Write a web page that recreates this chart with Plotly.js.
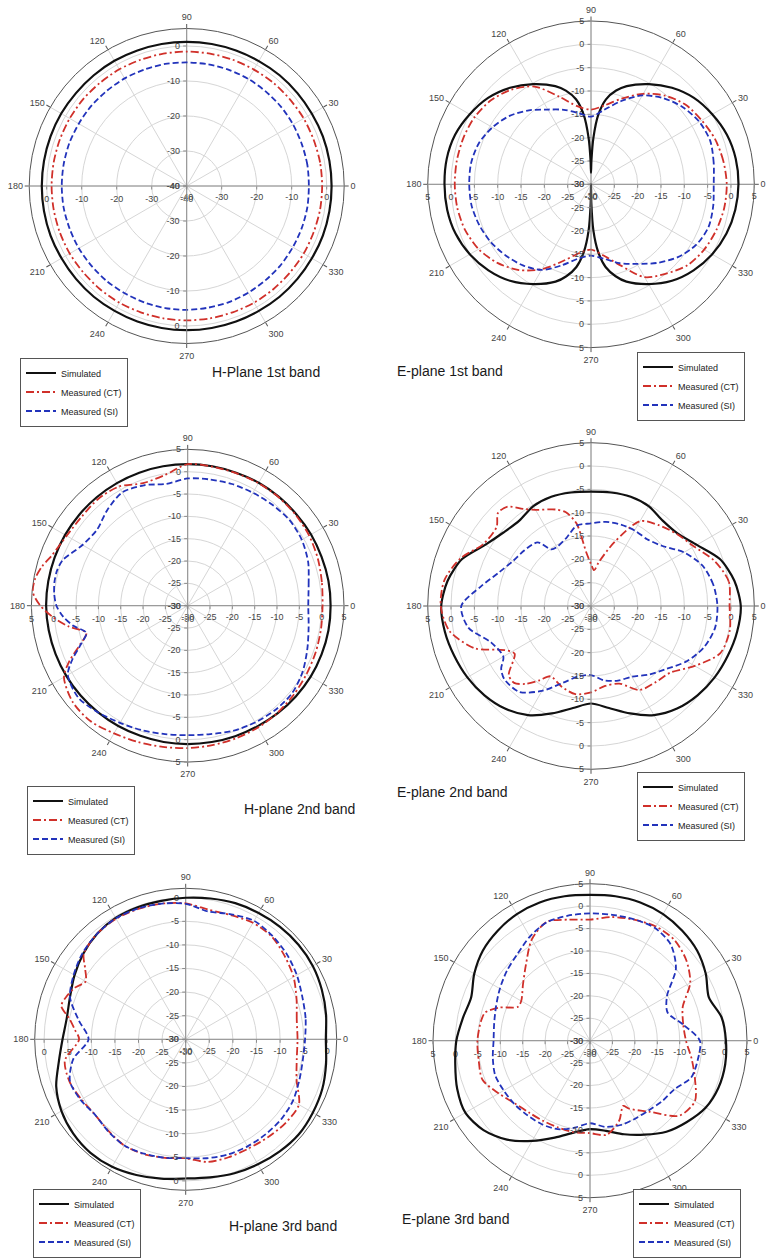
<!DOCTYPE html>
<html><head><meta charset="utf-8">
<script src="https://cdn.plot.ly/plotly-3.0.1.min.js"></script>
<style>html,body{margin:0;padding:0;background:#fff}#chart{width:766px;height:1258px}</style>
</head><body><div id="chart"></div>
<script>
// ---------- data (dB vs angle in degrees) ----------
const ANG = [0,10,20,30,40,50,60,70,80,90,100,110,120,130,140,150,160,170,180,190,200,210,220,230,240,250,260,270,280,290,300,310,320,330,340,350,360];
const ANG_TICKS = [0,30,60,90,120,150,180,210,240,270,300,330];
const SERIES_NAMES = ['Simulated','Measured (CT)','Measured (SI)'];
const TITLES = ['H-Plane 1st band','E-plane 1st band','H-plane 2nd band','E-plane 2nd band','H-plane 3rd band','E-plane 3rd band'];
const TICKS_40 = [-40,-30,-20,-10,0];
const TICKS_30 = [-30,-25,-20,-15,-10,-5,0,5];
const TICKS_30S = [-30,-25,-20,-15,-10,-5,0];

// H-plane 1st band
const h1_sim = [1.4,1.4,1.4,1.3,1.3,1.3,1.2,1.2,1.2,1.2,1.2,1.2,1.3,1.3,1.3,1.4,1.4,1.4,1.4,1.4,1.4,1.3,1.3,1.3,1.2,1.2,1.2,1.2,1.2,1.2,1.2,1.3,1.3,1.3,1.4,1.4,1.4];
const h1_ct  = [-1.3,-1.3,-1.4,-1.4,-1.5,-1.5,-1.6,-1.6,-1.6,-1.6,-1.6,-1.6,-1.5,-1.5,-1.4,-1.4,-1.4,-1.4,-1.4,-1.4,-1.4,-1.4,-1.5,-1.5,-1.5,-1.6,-1.6,-1.6,-1.6,-1.6,-1.5,-1.5,-1.5,-1.4,-1.4,-1.3,-1.3];
const h1_si  = [-5.1,-5.0,-5.0,-4.9,-4.8,-4.8,-4.7,-4.7,-4.7,-4.7,-4.6,-4.6,-4.5,-4.5,-4.4,-4.4,-4.3,-4.3,-4.3,-4.3,-4.4,-4.4,-4.5,-4.5,-4.6,-4.6,-4.6,-4.6,-4.7,-4.7,-4.8,-4.9,-4.9,-5.0,-5.0,-5.0,-5.1];

// E-plane 1st band
const e1_sim_theta = [0,10,20,30,40,50,60,70,75,80,84,87,89,90,91,93,96,100,105,110,120,130,140,150,160,170,180,190,200,210,220,230,240,250,255,260,264,267,269,270,271,273,276,280,285,290,300,310,320,330,340,350,360];
const e1_sim = [1.6,1.5,1.0,0.0,-1.2,-3.0,-5.2,-7.6,-9.2,-11.5,-15,-20,-25,-27.5,-25,-20,-15,-11.5,-9.2,-7.6,-5.2,-3.0,-1.2,0.0,1.0,1.4,1.4,1.3,0.9,0.0,-1.3,-3.0,-5.3,-7.8,-9.6,-12,-15.5,-20,-26,-30,-26,-20,-15.5,-12,-9.6,-7.8,-5.3,-3.0,-1.3,0.0,0.9,1.4,1.6];
const e1_ct  = [-0.9,-1.2,-1.7,-2.6,-3.5,-5.2,-7.6,-10.4,-12.8,-14.0,-13.0,-10.0,-5.8,-3.5,-2.0,-1.2,-0.9,-0.8,-0.8,-0.9,-1.3,-2.2,-3.8,-6.0,-9.0,-12.5,-15.0,-16.0,-14.5,-11.5,-7.0,-5.0,-3.0,-2.0,-1.4,-1.0,-0.9];
const e1_si  = [-3.7,-3.3,-2.8,-3.2,-4.3,-5.9,-8.0,-11.0,-13.8,-15.5,-14.5,-13.0,-11.5,-9.3,-7.2,-5.6,-4.4,-3.9,-3.9,-4.0,-4.5,-5.2,-6.2,-7.3,-8.8,-11.5,-13.8,-14.7,-13.8,-12.0,-10.3,-8.0,-5.7,-4.0,-3.2,-3.4,-3.7];

// H-plane 2nd band
const h2_sim = [2.0,2.0,1.9,1.9,1.8,1.8,1.8,1.7,1.7,1.7,1.7,1.7,1.7,1.7,1.7,1.7,1.7,1.7,1.7,1.6,1.5,1.4,1.3,1.2,1.1,1.0,1.0,1.0,1.0,1.1,1.2,1.4,1.6,1.8,1.9,2.0,2.0];
const h2_meas_theta = [0,10,20,30,40,50,60,70,80,90,100,110,120,130,140,150,160,165,170,175,180,185,190,195,200,205,210,220,230,240,250,260,270,280,290,300,310,320,330,340,350,360];
const h2_ct = [0.2,0.5,1.0,1.4,1.6,1.7,1.7,1.6,1.6,1.7,-0.3,-0.8,0.8,1.2,1.0,1.3,2.5,3.8,4.7,4.8,3.0,0.2,-3.0,-6.5,-4.3,-0.8,2.0,3.6,3.8,3.0,2.5,2.1,1.9,1.7,1.6,1.5,1.3,1.0,0.7,0.5,0.3,0.2];
const h2_si = [-3.0,-2.5,-1.3,-0.5,-0.2,-0.5,-0.8,-1.0,-1.3,-1.5,-2.3,-1.3,-0.7,-2.0,-3.5,-2.8,-0.2,0.3,0.3,0.0,-0.6,-2.0,-4.0,-6.5,-4.5,-1.5,1.0,2.0,1.2,0.3,-0.3,-0.8,-1.0,-0.8,-0.2,0.2,0.5,0.5,-0.3,-1.5,-2.5,-3.0];

// E-plane 2nd band
const e2_sim = [2.1,1.2,-0.6,-3.8,-5.8,-6.1,-5.3,-5.1,-5.3,-5.5,-5.3,-5.1,-5.3,-6.1,-5.5,-3.8,-0.6,1.2,2.1,1.8,1.2,0.6,-0.2,-1.3,-3.0,-5.5,-7.8,-9.1,-7.8,-5.5,-3.0,-1.3,-0.2,0.6,1.2,1.8,2.1];
const e2_ct_theta = [0,10,20,30,40,50,60,70,80,85,90,95,100,105,110,120,125,130,135,140,150,160,170,180,190,200,207,212,220,225,230,235,240,250,260,270,280,290,300,310,320,330,340,350,360];
const e2_ct = [-0.3,0.0,-1.8,-4.5,-6.0,-7.4,-9.0,-15.5,-20.5,-22.3,-21.0,-18.5,-12.0,-9.2,-8.0,-6.2,-4.6,-2.2,-1.8,-3.6,-3.4,-0.2,1.9,2.2,0.8,-3.5,-9.2,-10.7,-7.0,-6.7,-8.2,-10.5,-12.6,-11.6,-10.8,-11.5,-12.6,-12.3,-9.2,-8.6,-7.8,-4.3,-0.5,0.2,-0.3];
const e2_si_theta = [0,10,20,30,40,50,60,70,80,90,100,110,120,125,130,140,150,160,170,180,190,200,210,215,220,230,240,250,260,270,280,290,300,310,320,330,340,350,360];
const e2_si = [-2.9,-3.4,-4.6,-7.0,-10.0,-11.3,-11.3,-11.4,-11.7,-12.3,-12.5,-14.5,-15.4,-15.2,-12.2,-11.4,-10.7,-9.0,-6.0,-2.2,-3.3,-7.2,-8.3,-6.5,-5.7,-6.0,-9.0,-12.5,-14.7,-15.2,-13.8,-13.0,-12.5,-10.8,-9.0,-6.3,-4.2,-3.0,-2.9];

// H-plane 3rd band
const h3_sim = [-0.3,0.2,0.7,1.1,1.2,1.1,0.9,0.7,0.3,0.0,-0.2,-0.2,-0.3,-0.8,-1.7,-2.8,-3.9,-4.4,-3.9,-2.7,-0.8,0.4,1.1,1.4,1.2,0.6,0.0,-0.5,-0.3,0.2,0.6,1.0,1.3,1.1,0.8,0.2,-0.3];
const h3_ct_theta = [0,10,20,30,40,50,60,70,80,90,100,110,120,130,140,145,150,155,160,165,170,175,180,190,200,210,220,230,240,250,260,270,280,290,300,310,320,330,340,350,360];
const h3_ct = [-6.3,-6.1,-5.0,-3.6,-2.6,-1.6,-1.5,-2.0,-2.1,-1.2,-0.8,-0.6,-0.5,-0.8,-1.8,-4.0,-5.5,-4.1,-3.2,-2.7,-5.0,-6.4,-7.4,-4.0,-3.8,-4.5,-5.0,-4.6,-4.0,-4.1,-4.5,-4.8,-3.6,-3.4,-3.3,-2.9,-2.4,-2.3,-5.0,-6.1,-6.3];
const h3_si = [-4.7,-4.2,-3.7,-2.8,-2.0,-1.4,-1.0,-1.8,-2.5,-1.3,-0.8,-0.5,-0.4,-0.8,-1.5,-2.6,-3.9,-7.0,-9.4,-5.8,-3.9,-4.3,-5.0,-4.5,-4.0,-4.2,-4.5,-4.8,-4.4,-4.0,-3.8,-3.7,-3.6,-3.8,-4.4,-4.8,-4.7];

// E-plane 3rd band
const e3_sim = [0.3,-0.2,-1.8,-0.2,1.2,2.0,2.6,2.8,2.7,2.5,2.7,2.8,2.6,2.0,1.2,-0.2,-1.8,-1.2,-0.2,0.5,1.5,2.1,1.0,-1.2,-4.2,-7.0,-9.2,-10.3,-9.6,-7.8,-5.8,-3.5,-1.8,-0.2,0.5,0.6,0.3];
const e3_ct_theta = [0,10,20,30,40,50,60,70,80,90,100,110,120,130,140,150,155,160,165,170,180,190,200,210,220,230,240,250,260,270,280,290,297,300,310,320,330,340,350,360];
const e3_ct = [-8.6,-8.9,-8.0,-4.2,-2.0,-0.7,-0.6,-1.3,-2.0,-3.0,-2.6,-1.8,-4.0,-7.8,-10.5,-12.3,-12.2,-8.4,-5.8,-5.3,-4.9,-4.8,-4.5,-6.5,-8.2,-9.0,-9.3,-9.4,-9.3,-9.4,-8.7,-11.0,-13.7,-12.5,-9.3,-4.0,-3.0,-5.1,-7.0,-8.6];
const e3_si = [-5.5,-9.0,-11.6,-10.2,-5.0,-2.0,-1.0,-1.2,-1.5,-1.6,-1.7,-1.9,-3.2,-4.8,-5.8,-6.8,-7.7,-8.3,-8.5,-8.0,-7.5,-7.8,-8.0,-8.3,-8.5,-9.0,-10.3,-11.6,-10.5,-10.0,-9.9,-9.7,-9.0,-8.3,-6.0,-5.6,-5.5];

// ---------- layout / drawing ----------
const W = 766, H = 1258;
const FONT = 'Arial, "Liberation Sans", sans-serif';
const panels = [
  {cx:186.7, cy:186.0, R:157.5, range:[-40,5], ticks:TICKS_40,
   series:[[ANG,h1_sim],[ANG,h1_ct],[ANG,h1_si]], tx:210, ty:372, lx:20, ly:392, lanchor:'middle'},
  {cx:591.0, cy:184.3, R:163.3, range:[-30,5], ticks:TICKS_30,
   series:[[e1_sim_theta,e1_sim],[ANG,e1_ct],[ANG,e1_si]], tx:395, ty:371, lx:637, ly:386, lanchor:'middle'},
  {cx:187.7, cy:605.7, R:156.3, range:[-30,5], ticks:TICKS_30,
   series:[[ANG,h2_sim],[h2_meas_theta,h2_ct],[h2_meas_theta,h2_si]], tx:242, ty:809, lx:27, ly:820, lanchor:'middle'},
  {cx:591.0, cy:606.0, R:163.3, range:[-30,5], ticks:TICKS_30,
   series:[[ANG,e2_sim],[e2_ct_theta,e2_ct],[e2_si_theta,e2_si]], tx:395, ty:792, lx:637, ly:806, lanchor:'middle'},
  {cx:185.7, cy:1039.3, R:151.0, range:[-30,2], ticks:TICKS_30S,
   series:[[ANG,h3_sim],[h3_ct_theta,h3_ct],[ANG,h3_si]], tx:227, ty:1226, lx:33, ly:1257.5, lanchor:'bottom'},
  {cx:590.0, cy:1040.7, R:157.0, range:[-30,5], ticks:TICKS_30,
   series:[[ANG,e3_sim],[e3_ct_theta,e3_ct],[ANG,e3_si]], tx:400, ty:1219, lx:633, ly:1257.5, lanchor:'bottom'}
];
const LINE_STYLES = [
  {color:'#111111', width:2.2, dash:'solid'},
  {color:'#d0302a', width:1.8, dash:'8px,3px,2px,3px'},
  {color:'#2233bb', width:1.8, dash:'6px,3px'}
];
const GRID = '#d6d6d6', AXIS = '#8c8c8c', FRAME = '#555555';

function pid(n){ return n === 1 ? 'polar' : 'polar' + n; }
function lid(n){ return n === 1 ? 'legend' : 'legend' + n; }

const traces = [];
const layout = {
  width: W, height: H,
  margin: {l:0, r:0, t:0, b:0, autoexpand:false},
  paper_bgcolor: '#ffffff',
  font: {family: FONT, color:'#333'},
  showlegend: true,
  annotations: []
};

panels.forEach((p, i) => {
  const dom = {x:[(p.cx - p.R)/W, (p.cx + p.R)/W], y:[1 - (p.cy + p.R)/H, 1 - (p.cy - p.R)/H]};
  const angles = [0, 90, 180, 270];
  const sides = ['clockwise', 'counterclockwise', 'counterclockwise', 'clockwise'];
  angles.forEach((a, k) => {
    const id = pid(i*4 + k + 1);
    const main = (k === 0);
    layout[id] = {
      domain: dom,
      bgcolor: 'rgba(0,0,0,0)',
      radialaxis: {
        range: p.range, angle: a, tickangle: a, side: sides[k],
        tickmode: 'array', tickvals: p.ticks, ticktext: p.ticks.map(String),
        showgrid: main, gridcolor: GRID, gridwidth: 1,
        showline: true, linecolor: AXIS, linewidth: 1,
        ticks: 'outside', ticklen: 3, tickcolor: AXIS,
        tickfont: {size: 9, color: '#444', family: FONT},
        layer: 'above traces'
      },
      angularaxis: main ? {
        tickmode: 'array', tickvals: ANG_TICKS, ticktext: ANG_TICKS.map(String),
        direction: 'counterclockwise', rotation: 0,
        showgrid: true, gridcolor: GRID, gridwidth: 1,
        showline: true, linecolor: FRAME, linewidth: 1,
        ticks: 'outside', ticklen: 4, tickcolor: FRAME,
        tickfont: {size: 9, color: '#444', family: FONT}
      } : {visible: false, showgrid: false}
    };
    if (k < 3) {
      traces.push({type:'scatterpolar', mode:'lines', r:[], theta:[], subplot:id, showlegend:false, hoverinfo:'skip'});
    }
  });
  const dataId = pid(i*4 + 4);
  p.series.forEach((s, j) => {
    traces.push({
      type: 'scatterpolar', mode: 'lines',
      theta: s[0], r: s[1],
      subplot: dataId, legend: lid(i+1),
      name: SERIES_NAMES[j],
      line: Object.assign({shape:'spline', smoothing:0.8}, LINE_STYLES[j]),
      hoverinfo: 'skip'
    });
  });
  layout[lid(i+1)] = {
    x: p.lx/W, y: 1 - p.ly/H, xanchor: 'left', yanchor: p.lanchor,
    bgcolor: '#ffffff', bordercolor: '#555', borderwidth: 1,
    font: {size: 9, color: '#222', family: FONT},
    tracegroupgap: 0, itemwidth: 30
  };
  layout.annotations.push({
    xref:'paper', yref:'paper', x: p.tx/W, y: 1 - p.ty/H,
    xanchor:'left', yanchor:'middle', showarrow:false,
    text: TITLES[i], font:{size:14, color:'#1a1a1a', family: FONT}
  });
});

Plotly.newPlot('chart', traces, layout, {staticPlot:true, displayModeBar:false});
</script>
</body></html>
